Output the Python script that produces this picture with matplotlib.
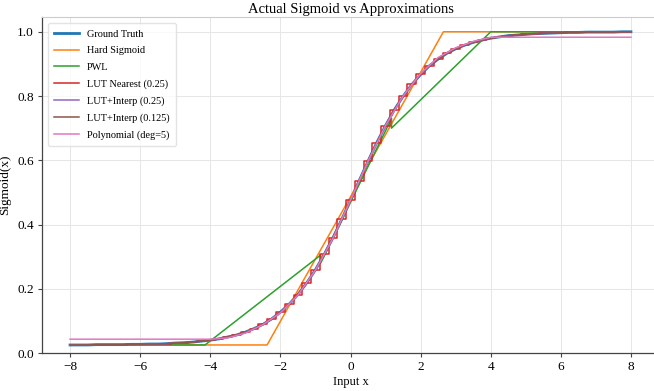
import matplotlib
matplotlib.use("Agg")
import matplotlib.pyplot as plt
import numpy as np

plt.rcParams['font.family'] = ['Liberation Serif', 'DejaVu Serif']

# LUT grid (step 0.25) and the sigmoid values
grid_x = np.arange(-8, 8.001, 0.25)
grid_y = [0.025, 0.025, 0.025, 0.026, 0.026, 0.026, 0.026, 0.027,
          0.027, 0.028, 0.028, 0.029, 0.031, 0.032, 0.034, 0.037,
          0.040, 0.044, 0.050, 0.056, 0.065, 0.076, 0.089, 0.106,
          0.127, 0.152, 0.182, 0.218, 0.259, 0.307, 0.359, 0.416,
          0.476, 0.537, 0.597, 0.655, 0.708, 0.757, 0.799, 0.836,
          0.867, 0.894, 0.915, 0.933, 0.947, 0.958, 0.967, 0.974,
          0.980, 0.984, 0.988, 0.990, 0.992, 0.994, 0.995, 0.996,
          0.997, 0.998, 0.998, 0.999, 0.999, 0.999, 0.999, 1.000, 1.000]

hard_x = [-8, -2.38, 2.65, 8]
hard_y = [0.025, 0.025, 1.0, 1.0]

pwl_x = [-8, -4.15, -0.85, -0.85, 1.17, 1.17, 4.0, 8]
pwl_y = [0.025, 0.025, 0.305, 0.28, 0.73, 0.70, 1.0, 1.0]

poly_x = [-8, -4, -3.5, -3, -2.5, -2, -1.5, -1, -0.5, 0,
          0.5, 1, 1.5, 2, 2.5, 3, 3.5, 4, 8]
poly_y = [0.043, 0.043, 0.047, 0.062, 0.088, 0.125, 0.180, 0.258, 0.357, 0.476,
          0.597, 0.708, 0.800, 0.870, 0.920, 0.950, 0.970, 0.983, 0.983]

x_ticks = [-8, -6, -4, -2, 0, 2, 4, 6, 8]
y_ticks = [0.0, 0.2, 0.4, 0.6, 0.8, 1.0]

fig = plt.figure(figsize=(6.54, 3.91), dpi=100)
ax = fig.add_axes([42 / 654, 38 / 391, 617 / 654, 336 / 391])

ax.plot(grid_x, grid_y, color='C0', lw=2.0, label='Ground Truth')
ax.plot(hard_x, hard_y, color='C1', lw=1.1, label='Hard Sigmoid')
ax.plot(pwl_x, pwl_y, color='C2', lw=1.1, label='PWL')
ax.plot(grid_x, grid_y, color='C3', lw=1.1, drawstyle='steps-mid', label='LUT Nearest (0.25)')
ax.plot(grid_x, grid_y, color='C4', lw=1.1, label='LUT+Interp (0.25)')
ax.plot(grid_x, grid_y, color='C5', lw=1.1, label='LUT+Interp (0.125)')
ax.plot(poly_x, poly_y, color='C6', lw=1.1, label='Polynomial (deg=5)')

ax.set_xlim(-8.8, 8.8)
ax.set_ylim(0, 1.046)
ax.set_xticks(x_ticks)
ax.set_yticks(y_ticks)
ax.tick_params(labelsize=9.5, length=3, width=0.8, color='#444444', pad=3)

ax.set_title('Actual Sigmoid vs Approximations', fontsize=10.5, pad=3)
ax.set_xlabel('Input x', fontsize=9, labelpad=2)
ax.set_ylabel('Sigmoid(x)', fontsize=9.5, labelpad=4)

ax.grid(True, color='#e6e6e6', lw=0.7)
ax.set_axisbelow(True)
for side in ['left', 'bottom']:
    ax.spines[side].set_color('#444444')
    ax.spines[side].set_linewidth(0.9)
for side in ['top', 'right']:
    ax.spines[side].set_color('#cccccc')
    ax.spines[side].set_linewidth(0.8)

ax.legend(loc='upper left', fontsize=7.4, frameon=True, edgecolor='#dddddd',
          handlelength=2.4, labelspacing=0.72, borderpad=0.6, borderaxespad=0.6)

fig.savefig('out.png', dpi=100)
